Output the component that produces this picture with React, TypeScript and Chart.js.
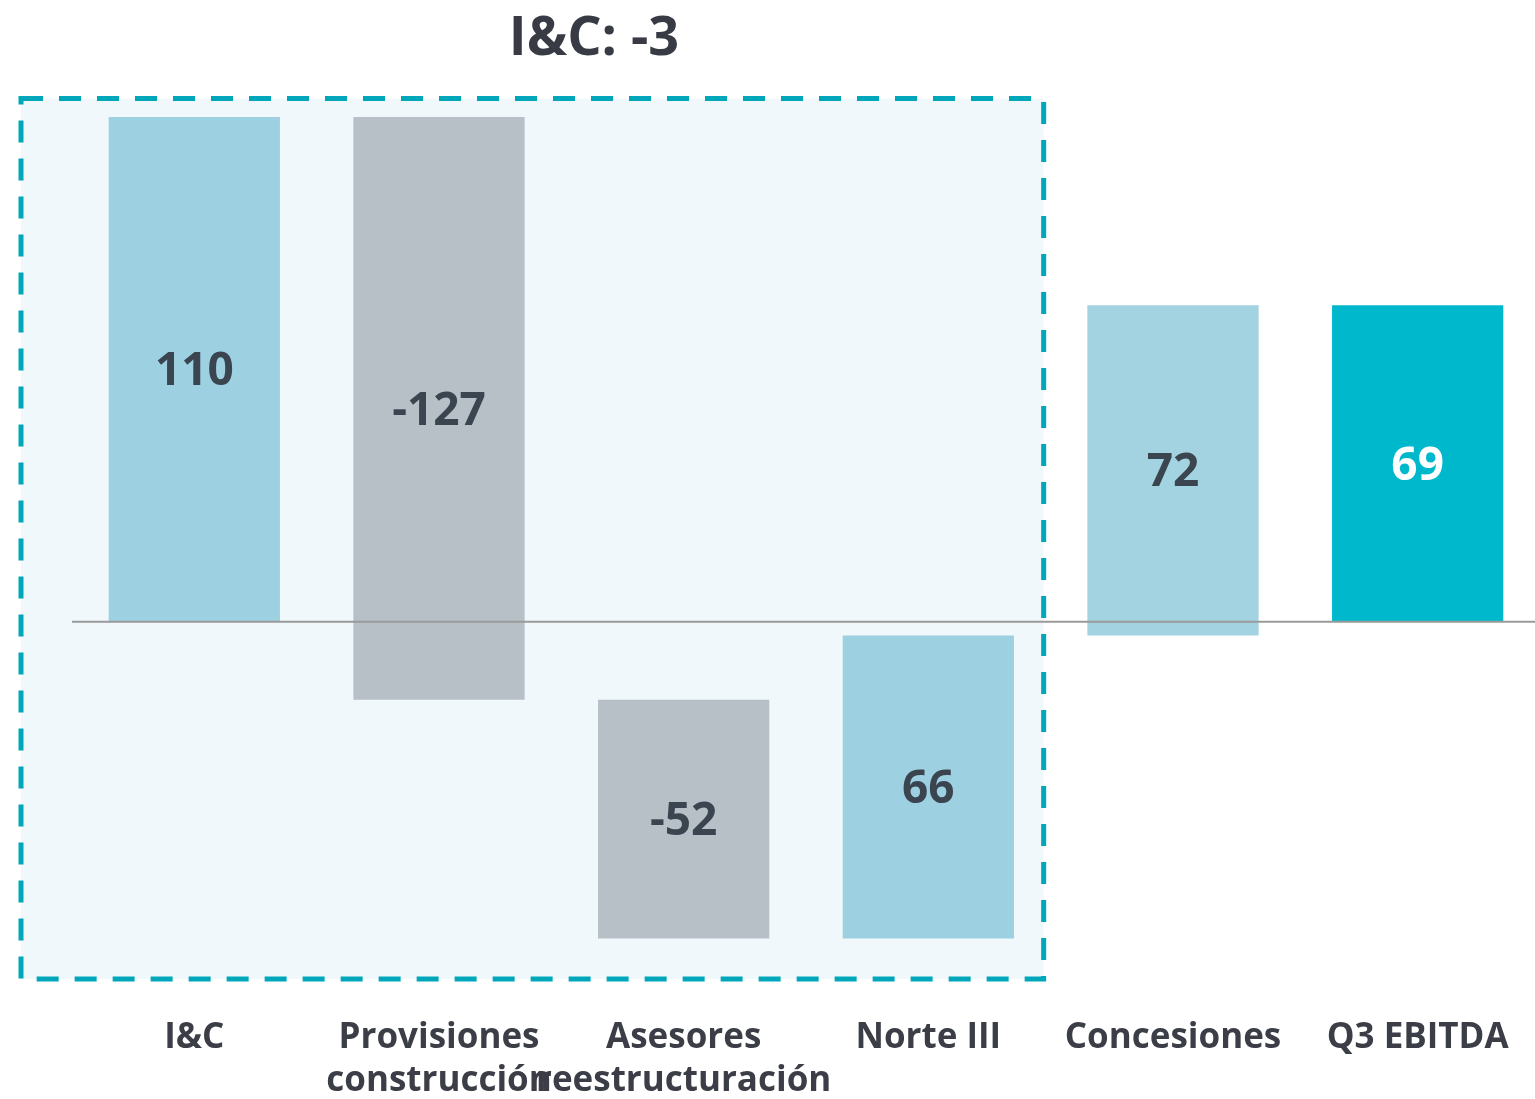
import React, { useEffect, useRef } from "react";
import { Chart, registerables } from "chart.js";

Chart.register(...registerables);

const categories: (string | string[])[] = [
  "I&C",
  ["Provisiones", "construcción"],
  ["Asesores", "reestructuración"],
  "Norte III",
  "Concesiones",
  "Q3 EBITDA",
];
const deltas: number[] = [110, -127, -52, 66, 72];
const totalValue = 69;
const labelTexts: string[] = ["110", "-127", "-52", "66", "72", "69"];
const barColors: string[] = ["#9DD1E1", "#B7C0C7", "#B7C0C7", "#9DD1E1", "#A3D2E0", "#00B8CC"];
const labelColors: string[] = ["#3A4550", "#3A4550", "#3A4550", "#3A4550", "#3A4550", "#FFFFFF"];
const titleText = "I&C: -3";

function buildRanges(): [number, number][] {
  const out: [number, number][] = [];
  let run = 0;
  for (const d of deltas) {
    out.push([run, run + d]);
    run += d;
  }
  out.push([0, totalValue]);
  return out;
}

const FONT = "'Open Sans', 'DejaVu Sans', sans-serif";

const overlayPlugin = {
  id: "overlay",
  beforeDatasetsDraw(chart: any) {
    const { ctx, chartArea, scales } = chart;
    const x = scales.x;
    const y = scales.y;
    const left = chartArea.left - 51;
    const right = x.getPixelForValue(3.5) - 7;
    const top = y.getPixelForValue(114);
    const bottom = y.getPixelForValue(-77.8);
    ctx.save();
    ctx.fillStyle = "#F0F8FB";
    ctx.fillRect(left, top, right - left, bottom - top);
    ctx.strokeStyle = "#00A7BA";
    ctx.lineWidth = 5;
    ctx.setLineDash([22, 16]);
    ctx.strokeRect(left, top, right - left, bottom - top);
    ctx.restore();
  },
  afterDatasetsDraw(chart: any) {
    const { ctx, chartArea, scales } = chart;
    const y = scales.y;
    const y0 = y.getPixelForValue(0);
    ctx.save();
    ctx.strokeStyle = "#9A9A9A";
    ctx.lineWidth = 2;
    ctx.beginPath();
    ctx.moveTo(chartArea.left, y0);
    ctx.lineTo(chartArea.right, y0);
    ctx.stroke();

    const meta = chart.getDatasetMeta(0);
    ctx.font = `bold 46px ${FONT}`;
    ctx.textAlign = "center";
    ctx.textBaseline = "middle";
    meta.data.forEach((bar: any, i: number) => {
      const props = bar.getProps(["x", "y", "base"], true);
      const cy = (props.y + props.base) / 2;
      ctx.fillStyle = labelColors[i];
      ctx.fillText(labelTexts[i], props.x, cy + 3);
    });

    ctx.font = `bold 54px ${FONT}`;
    ctx.fillStyle = "#383B44";
    ctx.fillText(titleText, 594, 40);
    ctx.restore();
  },
};

export default function App() {
  const ref = useRef<HTMLCanvasElement>(null);
  useEffect(() => {
    document.body.style.margin = "0";
    document.body.style.overflow = "hidden";
    const chart = new Chart(ref.current!, {
      type: "bar",
      data: {
        labels: categories as any,
        datasets: [
          {
            data: buildRanges() as any,
            backgroundColor: barColors,
            borderWidth: 0,
            barPercentage: 0.7,
            categoryPercentage: 1,
          },
        ],
      },
      options: {
        responsive: false,
        animation: false,
        devicePixelRatio: 1,
        layout: { padding: { left: 72, right: 5, top: 94, bottom: 0 } },
        plugins: {
          legend: { display: false },
          tooltip: { enabled: false },
          title: { display: false },
        },
        scales: {
          y: {
            display: false,
            min: -80,
            max: 115,
          },
          x: {
            grid: { display: false, drawTicks: false },
            border: { display: false },
            afterFit: (scale: any) => {
              scale.height = 110;
            },
            ticks: {
              autoSkip: false,
              maxRotation: 0,
              minRotation: 0,
              padding: 28,
              color: "#3B3E46",
              font: { family: FONT, size: 35, weight: "bold", lineHeight: 1.22 },
            },
          },
        },
      },
      plugins: [overlayPlugin],
    });
    return () => chart.destroy();
  }, []);
  return (
    <div style={{ position: "absolute", left: 0, top: 0, width: 1535, height: 1099, overflow: "hidden" }}>
      <canvas ref={ref} width={1545} height={1099} style={{ display: "block" }} />
    </div>
  );
}
